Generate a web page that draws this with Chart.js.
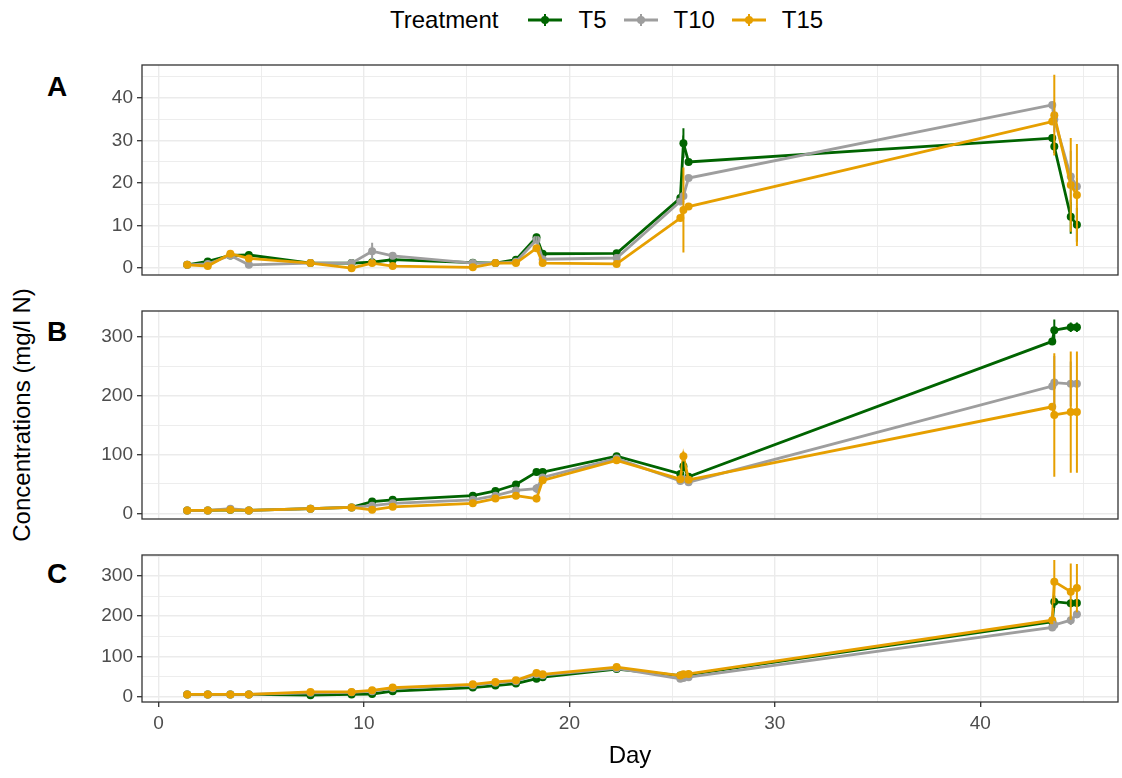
<!DOCTYPE html>
<html>
<head>
<meta charset="utf-8">
<script src="https://cdn.jsdelivr.net/npm/chart.js@4.4.1/dist/chart.umd.min.js"></script>
<style>
  body { margin: 0; background: #fff; width: 1122px; height: 778px; position: relative; overflow: hidden;
         font-family: "Liberation Sans", Arial, sans-serif; }
  canvas { position: absolute; left: 0; }
  .tag { position: absolute; font-weight: bold; font-size: 28px; color: #000; line-height: 1; }
  #ytitle { position: absolute; left: 22px; top: 415px; transform: translate(-50%, -50%) rotate(-90deg);
            font-size: 24px; white-space: nowrap; color: #000; }
  #legend { position: absolute; top: 6px; left: 390px; display: flex; align-items: center; font-size: 24px; color: #000; }
  #legend .title { margin-right: 30px; }
  #legend svg { margin-right: 16px; }
  #legend .lbl { margin-right: 17px; }
</style>
</head>
<body>
<div id="legend"></div>
<div id="ytitle">Concentrations (mg/l N)</div>
<div class="tag" style="left:47px;top:73px">A</div>
<div class="tag" style="left:47px;top:318px">B</div>
<div class="tag" style="left:47px;top:560px">C</div>
<canvas id="chartA" width="1122" height="220" style="top:60px"></canvas>
<canvas id="chartB" width="1122" height="218" style="top:306px"></canvas>
<canvas id="chartC" width="1122" height="228" style="top:550px"></canvas>
<script>
// --- Data ---

const days = [1.4, 2.4, 3.5, 4.4, 7.4, 9.4, 10.4, 11.4, 15.3, 16.4, 17.4, 18.4, 18.7, 22.3,
              25.4, 25.55, 25.8, 43.5, 43.6, 44.4, 44.7];

const seriesNames = ['T5', 'T10', 'T15'];
const seriesColors = ['#006400', '#9E9E9E', '#E69F00'];

// Panel A
const aT5  = [0.8, 1.6, 3.0, 3.1, 1.2, 1.2, 1.4, 2.0, 1.3, 1.2, 2.0, 7.3, 3.4, 3.5, 16.5, 29.4, 25.0, 30.6, 28.6, 12.1, 10.2];
const aT10 = [0.8, 1.0, 3.0, 0.8, 1.2, 1.2, 4.0, 2.9, 1.2, 1.2, 1.5, 6.7, 2.1, 2.4, 15.7, 17.0, 21.2, 38.4, 35.0, 21.6, 19.2];
const aT15 = [0.8, 0.5, 3.4, 2.3, 1.2, 0.0, 1.2, 0.5, 0.2, 1.2, 1.2, 4.7, 1.2, 1.0, 11.8, 13.7, 14.5, 34.5, 36.0, 19.6, 17.2];
const aT5Err  = [0, 0, 0, 0, 0, 0, 0, 0, 0, 0, 0, 0.8, 0, 0, 0, 3.5, 0, 0, 1.5, 4, 4];
const aT10Err = [0, 0, 0, 0, 0, 0, 2, 0, 0, 0, 0, 0.8, 0, 0, 0, 0, 0, 0, 3, 6, 2];
const aT15Err = [0, 0, 0, 0, 0, 0, 0, 0, 0, 0, 0, 0.5, 0, 0, 0, 10, 0, 0, 9.5, 11, 12];

// Panel B
const bT5  = [5, 5, 6, 5, 8, 10, 20, 23, 30, 38, 49, 70, 70, 97, 67, 80, 62, 292, 311, 316, 316];
const bT10 = [5, 5, 8, 5, 8, 10, 13, 17, 23, 30, 39, 42, 61, 93, 55, 58, 53, 216, 222, 220, 220];
const bT15 = [5, 5, 6, 5, 8, 10, 6, 11, 17, 25, 30, 25, 56, 90, 58, 97, 57, 181, 167, 172, 172];
const bT5Err  = [0, 0, 0, 0, 0, 0, 0, 0, 0, 0, 0, 0, 0, 0, 0, 8, 0, 0, 18, 8, 8];
const bT10Err = [0, 0, 0, 0, 0, 0, 0, 0, 0, 0, 0, 8, 0, 0, 0, 0, 0, 0, 45, 38, 0];
const bT15Err = [0, 0, 0, 0, 0, 0, 0, 0, 0, 0, 0, 6, 0, 0, 0, 8, 0, 0, 105, 103, 103];

// Panel C
const cT5  = [5, 5, 5, 5, 3, 5, 6, 13, 22, 27, 32, 44, 48, 68, 52, 52, 54, 186, 236, 232, 233];
const cT10 = [5, 5, 5, 5, 9, 10, 13, 20, 28, 34, 38, 55, 53, 70, 44, 46, 48, 172, 178, 190, 205];
const cT15 = [5, 5, 5, 5, 11, 11, 15, 22, 30, 36, 40, 58, 55, 73, 52, 55, 56, 190, 286, 261, 270];
const cT5Err  = [0, 0, 0, 0, 0, 0, 0, 0, 0, 0, 0, 0, 0, 0, 0, 0, 0, 0, 15, 10, 8];
const cT10Err = [0, 0, 0, 0, 0, 0, 0, 0, 0, 0, 0, 0, 0, 0, 0, 0, 0, 0, 10, 12, 10];
const cT15Err = [0, 0, 0, 0, 0, 0, 0, 0, 0, 0, 0, 0, 0, 0, 0, 0, 0, 0, 54, 70, 60];

// --- Plugins ---

// vertical error bars, drawn through the chart scales
const errorBars = {
    id: 'errorBars',
    afterDatasetsDraw(chart) {
        const ctx = chart.ctx;
        const xs = chart.scales.x, ys = chart.scales.y;
        chart.data.datasets.forEach(ds => {
            ctx.save();
            ctx.strokeStyle = ds.borderColor;
            ctx.lineWidth = 2;
            ctx.beginPath();
            ds.data.forEach((p, j) => {
                const e = ds.errors[j];
                if (!e) return;
                const px = xs.getPixelForValue(p.x);
                ctx.moveTo(px, ys.getPixelForValue(p.y - e));
                ctx.lineTo(px, ys.getPixelForValue(p.y + e));
            });
            ctx.stroke();
            ctx.restore();
        });
    }
};

// ggplot-style box around the panel
const panelBorder = {
    id: 'panelBorder',
    afterDraw(chart) {
        const { ctx, chartArea: a } = chart;
        ctx.save();
        ctx.strokeStyle = '#333333';
        ctx.lineWidth = 1.3;
        ctx.strokeRect(a.left, a.top, a.right - a.left, a.bottom - a.top);
        ctx.restore();
    }
};

// --- Charts ---

const tickFont = { family: '"Liberation Sans", Arial, sans-serif', size: 19 };

function isMajor(v, step) {
    return Math.abs(v / step - Math.round(v / step)) < 1e-6;
}

function makePanel(id, vals, errs, yMin, yMax, minorStep, majorStep, bottom) {
    const datasets = vals.map((v, i) => ({
        label: seriesNames[i],
        data: days.map((d, j) => ({ x: d, y: v[j] })),
        errors: errs[i],
        borderColor: seriesColors[i],
        backgroundColor: seriesColors[i],
        pointBackgroundColor: seriesColors[i],
        borderWidth: 2.8,
        pointRadius: 4,
        pointBorderWidth: 0,
        tension: 0,
        order: 2 - i
    }));

    return new Chart(document.getElementById(id), {
        type: 'line',
        data: { datasets },
        plugins: [errorBars, panelBorder],
        options: {
            responsive: false,
            animation: false,
            events: [],
            layout: { padding: { top: 5, bottom: bottom ? 0 : 5, left: 0, right: 4 } },
            plugins: { legend: { display: false }, tooltip: { enabled: false } },
            scales: {
                x: {
                    type: 'linear',
                    min: -0.8,
                    max: 46.7,
                    border: { display: false },
                    grid: {
                        color: '#EBEBEB',
                        lineWidth: c => isMajor(c.tick.value, 10) ? 1.4 : 0.9,
                        drawTicks: bottom,
                        tickLength: 5,
                        tickWidth: 1.3,
                        tickColor: c => isMajor(c.tick.value, 10) ? '#333333' : 'rgba(0,0,0,0)'
                    },
                    ticks: {
                        display: bottom,
                        stepSize: 5,
                        includeBounds: false,
                        autoSkip: false,
                        maxRotation: 0,
                        padding: 5,
                        color: '#4D4D4D',
                        font: tickFont,
                        callback: v => isMajor(v, 10) ? String(v) : ''
                    },
                    title: {
                        display: bottom,
                        text: 'Day',
                        color: '#000',
                        font: { family: '"Liberation Sans", Arial, sans-serif', size: 24 },
                        padding: { top: 4, bottom: 7 }
                    },
                    afterFit: s => {
                        s.height = bottom ? 76 : 0;
                        s.paddingLeft = 0;
                        s.paddingRight = 0;
                    }
                },
                y: {
                    min: yMin,
                    max: yMax,
                    border: { display: false },
                    grid: {
                        color: '#EBEBEB',
                        lineWidth: c => isMajor(c.tick.value, majorStep) ? 1.4 : 0.9,
                        tickLength: 5,
                        tickWidth: 1.3,
                        tickColor: c => isMajor(c.tick.value, majorStep) ? '#333333' : 'rgba(0,0,0,0)'
                    },
                    ticks: {
                        stepSize: minorStep,
                        includeBounds: false,
                        autoSkip: false,
                        padding: 4,
                        color: '#4D4D4D',
                        font: tickFont,
                        callback: v => isMajor(v, majorStep) ? String(v) : ''
                    },
                    afterFit: s => {
                        s.width = 142;
                        s.paddingTop = 0;
                        s.paddingBottom = 0;
                    }
                }
            }
        }
    });
}

makePanel('chartA', [aT5, aT10, aT15], [aT5Err, aT10Err, aT15Err], -1.6, 47.8, 5, 10, false);
makePanel('chartB', [bT5, bT10, bT15], [bT5Err, bT10Err, bT15Err], -9.6, 343.6, 50, 100, false);
makePanel('chartC', [cT5, cT10, cT15], [cT5Err, cT10Err, cT15Err], -14, 352.5, 50, 100, true);

// --- Legend ---

const legend = document.getElementById('legend');
const ttl = document.createElement('span');
ttl.className = 'title';
ttl.textContent = 'Treatment';
legend.appendChild(ttl);
seriesNames.forEach((name, i) => {
    const c = seriesColors[i];
    const svg = document.createElementNS('http://www.w3.org/2000/svg', 'svg');
    svg.setAttribute('width', '34');
    svg.setAttribute('height', '20');
    svg.innerHTML = `<line x1="0" y1="10" x2="34" y2="10" stroke="${c}" stroke-width="3"/>` +
                    `<line x1="17" y1="4" x2="17" y2="16" stroke="${c}" stroke-width="2"/>` +
                    `<circle cx="17" cy="10" r="4" fill="${c}"/>`;
    legend.appendChild(svg);
    const lbl = document.createElement('span');
    lbl.className = 'lbl';
    lbl.textContent = name;
    legend.appendChild(lbl);
});
</script>
</body>
</html>
